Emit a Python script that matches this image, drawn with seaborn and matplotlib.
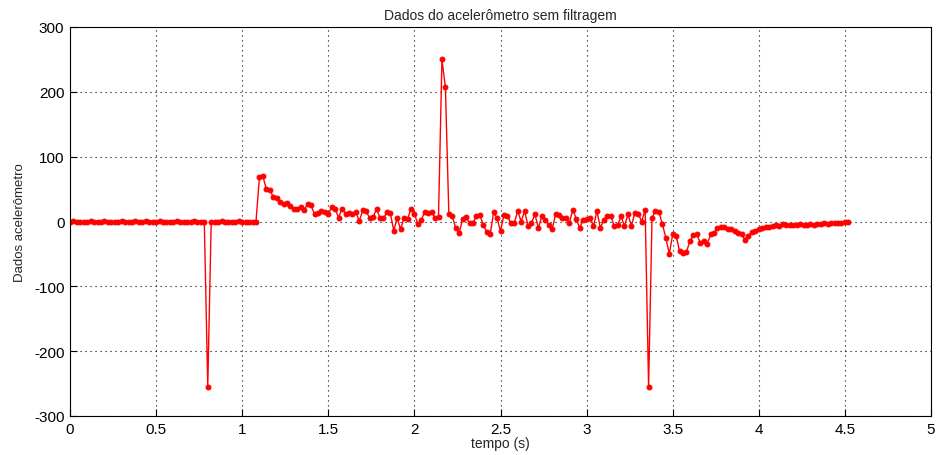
import numpy as np
import pandas as pd
import matplotlib
matplotlib.use("Agg")
import matplotlib.pyplot as plt
import seaborn as sns

title = "Dados do acelerômetro sem filtragem"
x_label = "tempo (s)"
y_label = "Dados acelerômetro"
sample_period = 0.02
x_ticks = [0, 0.5, 1, 1.5, 2, 2.5, 3, 3.5, 4, 4.5, 5]
x_tick_labels = ["0", "0.5", "1", "1.5", "2", "2.5", "3", "3.5", "4", "4.5", "5"]
y_ticks = [-300, -200, -100, 0, 100, 200, 300]
y_tick_labels = ["-300", "-200", "-100", "0", "100", "200", "300"]

seg_rest = [0, 1, 0, -1, 0, 0, 1, 0, -1, 0, 1, 0, 0, -1, 0, 1, 0, 0, -1, 1,
            0, 0, 1, -1, 0, 0, 1, 0, -1, 0, 0, 1, 0, 0, -1, 0, 1, 0, 0, -1]
seg_spike1 = [-255]
seg_rest2 = [0, -1, 0, 1, 0, 0, -1, 0, 1, 0, 0, -1, 0, 0]
seg_move = [68, 70, 50, 49, 38, 36, 30, 27, 28, 24, 20, 19, 22, 18, 27, 25, 11, 13,
            16, 14, 12, 22, 19, 6, 20, 12, 13, 11, 14, 1, 17, 16, 5, 7, 19, 6, 5,
            14, 13, -14, 5, -12, 6, 4, 19, 12, -4, 2, 15, 13, 14, 6, 7]
seg_spike2 = [250, 207]
seg_mid = [12, 8, -10, -18, 4, 7, -3, -2, 8, 10, -5, -16, -20, 14, 5, -15, 10, 9,
           -3, -2, 16, 0, 16, -7, -2, 11, -10, 8, 3, -5, -12, 11, 10, 6, 5, -2, 18,
           4, -10, 3, 4, 6, -7, 16, -10, 2, 8, 9, -7, -6, 8, -7, 11, -7, 13, 12, 0, 18]
seg_spike3 = [-255]
seg_end = [6, 16, 15, -4, -25, -50, -20, -22, -46, -48, -47, -30, -21, -20, -33,
           -30, -35, -20, -18, -10, -8, -9, -11, -12, -15, -17, -20, -28, -22, -16,
           -14, -12, -10, -9, -8, -7, -6, -7, -4, -6, -5, -5, -6, -4, -5, -5, -4,
           -5, -4, -4, -3, -4, -3, -3, -2, -2, -1, 0]

values = seg_rest + seg_spike1 + seg_rest2 + seg_move + seg_spike2 + seg_mid + seg_spike3 + seg_end
time = np.arange(len(values)) * sample_period
df = pd.DataFrame({"t": time, "v": values})

sns.set_style("white")
plt.rcParams["font.family"] = ["Liberation Sans", "DejaVu Sans"]

fig = plt.figure(figsize=(9.36, 4.56), dpi=100)
ax = fig.add_axes([70 / 936, 1 - 417 / 456, 861 / 936, 389 / 456])

sns.lineplot(data=df, x="t", y="v", ax=ax, color="red", linewidth=1.0,
             marker=".", markersize=7, markeredgecolor="red", markerfacecolor="red")

ax.set_xlim(0, 5)
ax.set_ylim(-300, 300)
ax.set_xticks(x_ticks)
ax.set_xticklabels(x_tick_labels)
ax.set_yticks(y_ticks)
ax.set_yticklabels(y_tick_labels)
ax.tick_params(direction="in", length=5, width=0.8, colors="black", labelsize=11,
               top=False, right=False, bottom=True, left=True, pad=4)
ax.grid(True, linestyle=(0, (1, 3.5)), color="black", linewidth=0.8)
for s in ax.spines.values():
    s.set_visible(True)
    s.set_color("black")
    s.set_linewidth(0.8)
ax.set_title(title, fontsize=10, pad=6)
ax.set_xlabel(x_label, fontsize=10, labelpad=0)
ax.set_ylabel(y_label, fontsize=9.5, labelpad=6)

fig.savefig("out.png", dpi=100, facecolor="white")
